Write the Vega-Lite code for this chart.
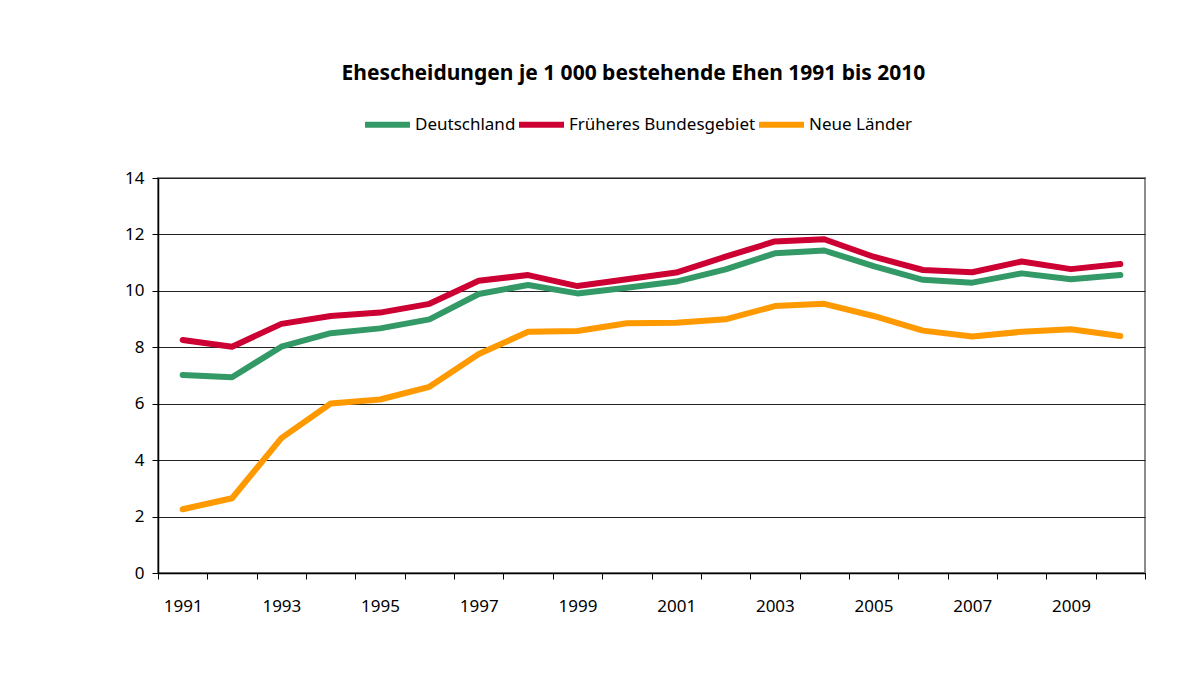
{
  "$schema": "https://vega.github.io/schema/vega-lite/v6.json",
  "width": 987,
  "height": 395,
  "autosize": {"type": "none"},
  "padding": {"left": 158, "top": 178, "right": 39, "bottom": 104},
  "background": "white",
  "title": {
    "text": "Ehescheidungen je 1 000 bestehende Ehen 1991 bis 2010",
    "font": "Noto Sans",
    "fontSize": 21,
    "fontWeight": "bold",
    "color": "#000000",
    "anchor": "middle",
    "dx": -18,
    "offset": 15
  },
  "config": {
    "font": "Noto Sans",
    "view": {"stroke": "#8c8c8c", "strokeWidth": 2}
  },
  "data": {
    "values": [
      {"year": "1991", "series": "Deutschland", "value": 7.02},
      {"year": "1992", "series": "Deutschland", "value": 6.94},
      {"year": "1993", "series": "Deutschland", "value": 8.02},
      {"year": "1994", "series": "Deutschland", "value": 8.50},
      {"year": "1995", "series": "Deutschland", "value": 8.67},
      {"year": "1996", "series": "Deutschland", "value": 8.99},
      {"year": "1997", "series": "Deutschland", "value": 9.89},
      {"year": "1998", "series": "Deutschland", "value": 10.21},
      {"year": "1999", "series": "Deutschland", "value": 9.91},
      {"year": "2000", "series": "Deutschland", "value": 10.11},
      {"year": "2001", "series": "Deutschland", "value": 10.33},
      {"year": "2002", "series": "Deutschland", "value": 10.76},
      {"year": "2003", "series": "Deutschland", "value": 11.33},
      {"year": "2004", "series": "Deutschland", "value": 11.43},
      {"year": "2005", "series": "Deutschland", "value": 10.88},
      {"year": "2006", "series": "Deutschland", "value": 10.39},
      {"year": "2007", "series": "Deutschland", "value": 10.29},
      {"year": "2008", "series": "Deutschland", "value": 10.62},
      {"year": "2009", "series": "Deutschland", "value": 10.41},
      {"year": "2010", "series": "Deutschland", "value": 10.56},
      {"year": "1991", "series": "Früheres Bundesgebiet", "value": 8.26},
      {"year": "1992", "series": "Früheres Bundesgebiet", "value": 8.02},
      {"year": "1993", "series": "Früheres Bundesgebiet", "value": 8.83},
      {"year": "1994", "series": "Früheres Bundesgebiet", "value": 9.11},
      {"year": "1995", "series": "Früheres Bundesgebiet", "value": 9.23},
      {"year": "1996", "series": "Früheres Bundesgebiet", "value": 9.54},
      {"year": "1997", "series": "Früheres Bundesgebiet", "value": 10.36},
      {"year": "1998", "series": "Früheres Bundesgebiet", "value": 10.56},
      {"year": "1999", "series": "Früheres Bundesgebiet", "value": 10.17},
      {"year": "2000", "series": "Früheres Bundesgebiet", "value": 10.41},
      {"year": "2001", "series": "Früheres Bundesgebiet", "value": 10.65},
      {"year": "2002", "series": "Früheres Bundesgebiet", "value": 11.21},
      {"year": "2003", "series": "Früheres Bundesgebiet", "value": 11.75},
      {"year": "2004", "series": "Früheres Bundesgebiet", "value": 11.83},
      {"year": "2005", "series": "Früheres Bundesgebiet", "value": 11.21},
      {"year": "2006", "series": "Früheres Bundesgebiet", "value": 10.74},
      {"year": "2007", "series": "Früheres Bundesgebiet", "value": 10.66},
      {"year": "2008", "series": "Früheres Bundesgebiet", "value": 11.04},
      {"year": "2009", "series": "Früheres Bundesgebiet", "value": 10.77},
      {"year": "2010", "series": "Früheres Bundesgebiet", "value": 10.95},
      {"year": "1991", "series": "Neue Länder", "value": 2.26},
      {"year": "1992", "series": "Neue Länder", "value": 2.65},
      {"year": "1993", "series": "Neue Länder", "value": 4.78},
      {"year": "1994", "series": "Neue Länder", "value": 6.01},
      {"year": "1995", "series": "Neue Länder", "value": 6.15},
      {"year": "1996", "series": "Neue Länder", "value": 6.60},
      {"year": "1997", "series": "Neue Länder", "value": 7.76},
      {"year": "1998", "series": "Neue Länder", "value": 8.55},
      {"year": "1999", "series": "Neue Länder", "value": 8.58},
      {"year": "2000", "series": "Neue Länder", "value": 8.85},
      {"year": "2001", "series": "Neue Länder", "value": 8.87},
      {"year": "2002", "series": "Neue Länder", "value": 8.99},
      {"year": "2003", "series": "Neue Länder", "value": 9.46},
      {"year": "2004", "series": "Neue Länder", "value": 9.54},
      {"year": "2005", "series": "Neue Länder", "value": 9.11},
      {"year": "2006", "series": "Neue Länder", "value": 8.59},
      {"year": "2007", "series": "Neue Länder", "value": 8.38},
      {"year": "2008", "series": "Neue Länder", "value": 8.55},
      {"year": "2009", "series": "Neue Länder", "value": 8.64},
      {"year": "2010", "series": "Neue Länder", "value": 8.40}
    ]
  },
  "mark": {"type": "line", "strokeWidth": 6, "strokeJoin": "round", "strokeCap": "round"},
  "encoding": {
    "x": {
      "field": "year",
      "type": "ordinal",
      "bandPosition": 0.5,
      "scale": {"type": "band", "paddingInner": 0, "paddingOuter": 0},
      "axis": {
        "title": null,
        "tickBand": "extent",
        "labelAngle": 0,
        "labelExpr": "toNumber(datum.value) % 2 == 1 ? datum.value : ''",
        "labelFontSize": 17,
        "labelColor": "#000000",
        "labelPadding": 19,
        "tickSize": 6,
        "tickColor": "#000000",
        "domainColor": "#000000",
        "domainWidth": 1.5,
        "grid": false
      }
    },
    "y": {
      "field": "value",
      "type": "quantitative",
      "scale": {"domain": [0, 14], "nice": false},
      "axis": {
        "title": null,
        "values": [0, 2, 4, 6, 8, 10, 12, 14],
        "labelFontSize": 17,
        "labelColor": "#000000",
        "labelPadding": 8,
        "tickSize": 6,
        "tickColor": "#000000",
        "domainColor": "#000000",
        "domainWidth": 1.5,
        "grid": true,
        "gridColor": "#222222",
        "gridWidth": 1
      }
    },
    "color": {
      "field": "series",
      "type": "nominal",
      "scale": {
        "domain": ["Deutschland", "Früheres Bundesgebiet", "Neue Länder"],
        "range": ["#339966", "#CC0033", "#FF9900"]
      },
      "legend": {
        "title": null,
        "orient": "none",
        "direction": "horizontal",
        "legendX": 204,
        "legendY": -79,
        "symbolType": "stroke",
        "symbolStrokeWidth": 6,
        "symbolSize": 2025,
        "labelFontSize": 17,
        "labelLimit": 400,
        "labelColor": "#000000",
        "labelOffset": 2,
        "columnPadding": -10
      }
    }
  }
}
